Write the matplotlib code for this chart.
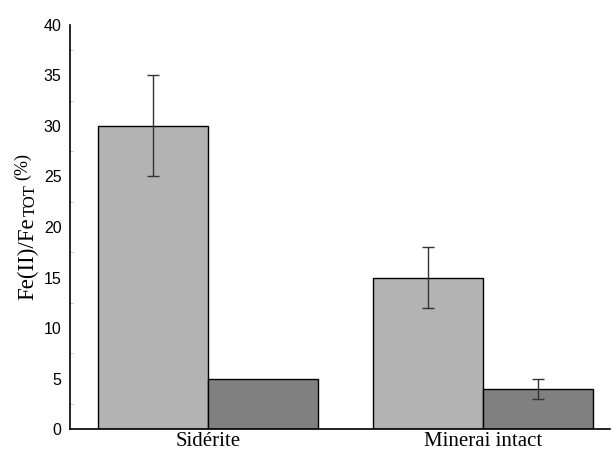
import numpy as np
import matplotlib.pyplot as plt
from matplotlib.ticker import MultipleLocator

# Data
groups = ['Sidérite', 'Minerai intact']
light_vals = [30, 15]
light_err = [5, 3]
dark_vals = [5, 4]
dark_err = [0, 1]

W, H = 613, 454
fig = plt.figure(figsize=(W / 100, H / 100), dpi=100)
ax = fig.add_axes([0.114, 0.055, 0.881, 0.89])

x = np.arange(len(groups))
w = 0.4

ax.bar(x - w / 2, light_vals, w, color='#b3b3b3', edgecolor='black', linewidth=1, zorder=2)
ax.bar(x + w / 2, dark_vals, w, color='#808080', edgecolor='black', linewidth=1, zorder=2)

# error bars (none drawn for zero error)
for xi, v, e in zip(x - w / 2, light_vals, light_err):
    if e > 0:
        ax.errorbar(xi, v, yerr=e, fmt='none', ecolor='#333333', elinewidth=1, capsize=4, zorder=3)
for xi, v, e in zip(x + w / 2, dark_vals, dark_err):
    if e > 0:
        ax.errorbar(xi, v, yerr=e, fmt='none', ecolor='#333333', elinewidth=1, capsize=4, zorder=3)

ax.set_xlim(-0.502, 1.462)
ax.set_ylim(0, 40)
ax.yaxis.set_major_locator(MultipleLocator(5))
ax.yaxis.set_minor_locator(MultipleLocator(2.5))

ax.set_xticks(x)
ax.set_xticklabels(groups, fontfamily='Liberation Serif', fontsize=15)
ax.tick_params(axis='x', length=0, pad=2)
ax.tick_params(axis='y', which='major', length=0, pad=6, labelsize=11.5)
ax.tick_params(axis='y', which='minor', direction='in', length=2, color='#bbbbbb')
for lab in ax.get_yticklabels():
    lab.set_fontfamily('Liberation Sans')

for s in ['top', 'right']:
    ax.spines[s].set_visible(False)
for s in ['left', 'bottom']:
    ax.spines[s].set_linewidth(1.2)

# y label built from pieces: "Fe(II)/Fe", smaller subscript "TOT", small raised "(%)"
fig.canvas.draw()
r = fig.canvas.get_renderer()
kw = dict(rotation=90, rotation_mode='anchor', ha='left', va='baseline',
          fontfamily='Liberation Serif')
t1 = fig.text(33 / W, 1 - 300 / H, 'Fe(II)/Fe', fontsize=16.5, **kw)
y1 = t1.get_window_extent(r).y1
t2 = fig.text(35 / W, (y1 + 1) / H, 'TOT', fontsize=12, **kw)
y2 = t2.get_window_extent(r).y1
fig.text(27 / W, (y2 + 4) / H, '(%)', fontsize=13, **kw)

fig.savefig('out.png', dpi=100)
